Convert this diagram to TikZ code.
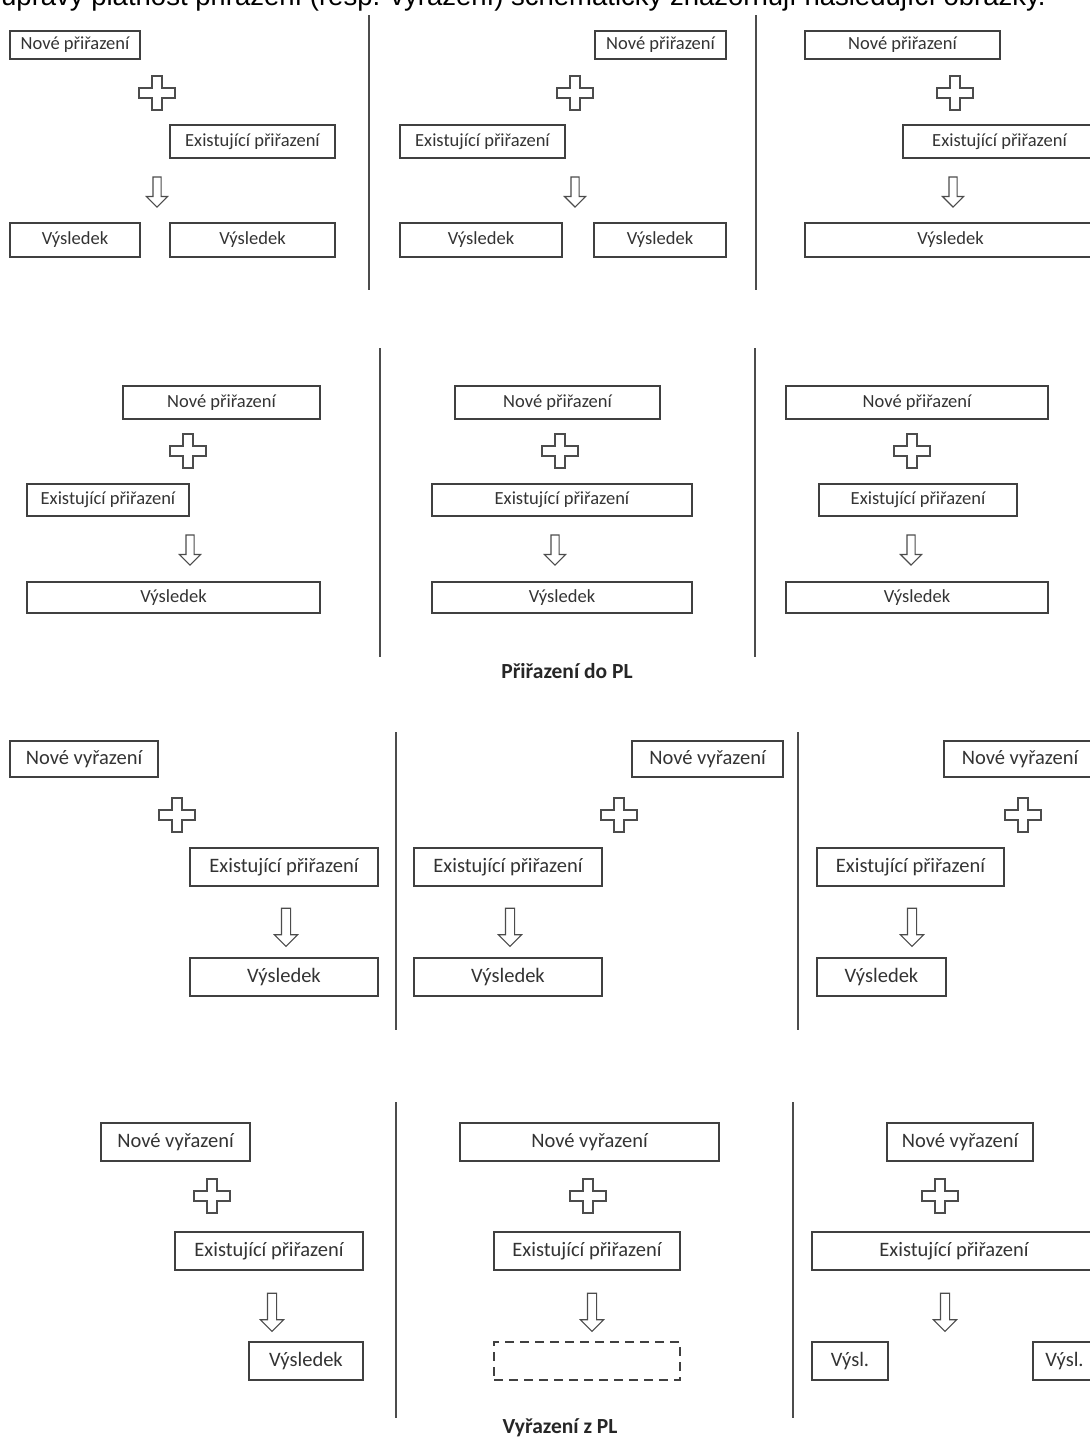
\documentclass[tikz,border=0pt]{standalone}
\usepackage{fontspec}
\setmainfont{Carlito}
\newfontfamily\introfont{Liberation Sans}
\usetikzlibrary{shapes.arrows}

% box from corner (x1,y1) to corner (x2,y2)
\newcommand{\pbox}[7][box]{%
  \node[#1, minimum width={#5-#3}, minimum height={#6-#4}]
    (#2) at ({(#3+#5)/2},{(#4+#6)/2}) {#7};}

\begin{document}
\begin{tikzpicture}[x=1pt, y=-1pt,
      box/.style = {shape=rectangle, draw=black!75, line width=1.3pt,
        fill=white, text=black!80, inner sep=0pt,
        font=\fontsize{18.5}{21}\selectfont},
      bigbox/.style = {box, font=\fontsize{20.5}{23}\selectfont},
      emptybox/.style = {box, dash pattern=on 9pt off 6pt},
      sym/.style = {draw=black!70, line width=1.1pt, fill=white},
      downarrow/.style = {sym, shape=single arrow, rotate=-90, inner sep=3.5pt,
        minimum height=30pt, single arrow head extend=6.5pt},
      bigarrow/.style = {downarrow, minimum height=38pt, inner sep=4pt,
        single arrow head extend=7pt},
      divider/.style = {draw=black!70, line width=1.3pt},
      caption/.style = {font=\bfseries\fontsize{21.5}{24}\selectfont, text=black!85},
      plussign/.pic = {\path[sym] (-5,-17) -- (5,-17) -- (5,-5) -- (18,-5)
        -- (18,5) -- (5,5) -- (5,17) -- (-5,17) -- (-5,5) -- (-18,5)
        -- (-18,-5) -- (-5,-5) -- cycle;}]
  \useasboundingbox (0,0) rectangle (1090,1441);
  \clip (0,0) rectangle (1090,1441);

  \node[anchor=base west, inner sep=0pt, text=black,
    font=\introfont\fontsize{27.5}{30}\selectfont] (intro) at (1,5)
    {úpravy platnost přiřazení (resp. vyřazení) schematicky znázorňují následující obrázky.};

  % Prirazeni do PL, first row
  \pbox{r1an}{10}{31}{140}{59}{Nové přiřazení}
  \pic at (157,93) {plussign};
  \pbox{r1ae}{170}{125}{335}{158}{Existující přiřazení}
  \node[downarrow] (r1aa) at (157,190) {};
  \pbox{r1av}{10}{223}{140}{257}{Výsledek}
  \pbox{r1aw}{170}{223}{335}{257}{Výsledek}
  \draw[divider] (369,15) -- (369,290);

  \pbox{r1bn}{595}{31}{726}{59}{Nové přiřazení}
  \pic at (575,93) {plussign};
  \pbox{r1be}{400}{125}{565}{158}{Existující přiřazení}
  \node[downarrow] (r1ba) at (575,190) {};
  \pbox{r1bv}{400}{223}{562}{257}{Výsledek}
  \pbox{r1bw}{594}{223}{726}{257}{Výsledek}
  \draw[divider] (756,15) -- (756,290);

  \pbox{r1cn}{805}{31}{1000}{59}{Nové přiřazení}
  \pic at (955,93) {plussign};
  \pbox{r1ce}{903}{125}{1096}{158}{Existující přiřazení}
  \node[downarrow] (r1ca) at (953,190) {};
  \pbox{r1cv}{805}{223}{1096}{257}{Výsledek}

  % second row
  \pbox{r2an}{123}{386}{320}{419}{Nové přiřazení}
  \pic at (188,451) {plussign};
  \pbox{r2ae}{27}{484}{189}{516}{Existující přiřazení}
  \node[downarrow] (r2aa) at (190,548) {};
  \pbox{r2av}{27}{582}{320}{613}{Výsledek}
  \draw[divider] (380,348) -- (380,657);

  \pbox{r2bn}{455}{386}{660}{419}{Nové přiřazení}
  \pic at (560,451) {plussign};
  \pbox{r2be}{432}{484}{692}{516}{Existující přiřazení}
  \node[downarrow] (r2ba) at (555,548) {};
  \pbox{r2bv}{432}{582}{692}{613}{Výsledek}
  \draw[divider] (755,348) -- (755,657);

  \pbox{r2cn}{786}{386}{1048}{419}{Nové přiřazení}
  \pic at (912,451) {plussign};
  \pbox{r2ce}{819}{484}{1017}{516}{Existující přiřazení}
  \node[downarrow] (r2ca) at (911,548) {};
  \pbox{r2cv}{786}{582}{1048}{613}{Výsledek}

  \node[caption] (capin) at (567,671) {Přiřazení do PL};

  % Vyrazeni z PL, third row
  \pbox[bigbox]{r3an}{10}{741}{158}{777}{Nové vyřazení}
  \pic at (177,815) {plussign};
  \pbox[bigbox]{r3ae}{190}{848}{378}{886}{Existující přiřazení}
  \node[bigarrow] (r3aa) at (286,925) {};
  \pbox[bigbox]{r3av}{190}{958}{378}{996}{Výsledek}
  \draw[divider] (396,732) -- (396,1030);

  \pbox[bigbox]{r3bn}{632}{741}{783}{777}{Nové vyřazení}
  \pic at (619,815) {plussign};
  \pbox[bigbox]{r3be}{414}{848}{602}{886}{Existující přiřazení}
  \node[bigarrow] (r3ba) at (510,925) {};
  \pbox[bigbox]{r3bv}{414}{958}{602}{996}{Výsledek}
  \draw[divider] (798,732) -- (798,1030);

  \pbox[bigbox]{r3cn}{944}{741}{1096}{777}{Nové vyřazení}
  \pic at (1023,815) {plussign};
  \pbox[bigbox]{r3ce}{817}{848}{1004}{886}{Existující přiřazení}
  \node[bigarrow] (r3ca) at (912,925) {};
  \pbox[bigbox]{r3cv}{817}{958}{946}{996}{Výsledek}

  % fourth row
  \pbox[bigbox]{r4an}{101}{1123}{250}{1161}{Nové vyřazení}
  \pic at (212,1196) {plussign};
  \pbox[bigbox]{r4ae}{175}{1232}{363}{1270}{Existující přiřazení}
  \node[bigarrow] (r4aa) at (272,1310) {};
  \pbox[bigbox]{r4av}{249}{1342}{363}{1380}{Výsledek}
  \draw[divider] (396,1102) -- (396,1418);

  \pbox[bigbox]{r4bn}{460}{1123}{719}{1161}{Nové vyřazení}
  \pic at (588,1196) {plussign};
  \pbox[bigbox]{r4be}{494}{1232}{680}{1270}{Existující přiřazení}
  \node[bigarrow] (r4ba) at (592,1310) {};
  \pbox[emptybox]{r4bv}{494}{1342}{680}{1380}{}
  \draw[divider] (793,1102) -- (793,1418);

  \pbox[bigbox]{r4cn}{887}{1123}{1033}{1161}{Nové vyřazení}
  \pic at (940,1196) {plussign};
  \pbox[bigbox]{r4ce}{812}{1232}{1096}{1270}{Existující přiřazení}
  \node[bigarrow] (r4ca) at (945,1310) {};
  \pbox[bigbox]{r4cv}{812}{1342}{888}{1380}{Výsl.}
  \pbox[bigbox]{r4cw}{1033}{1342}{1096}{1380}{Výsl.}

  \node[caption] (capout) at (560,1428) {Vyřazení z PL};
\end{tikzpicture}
\end{document}
